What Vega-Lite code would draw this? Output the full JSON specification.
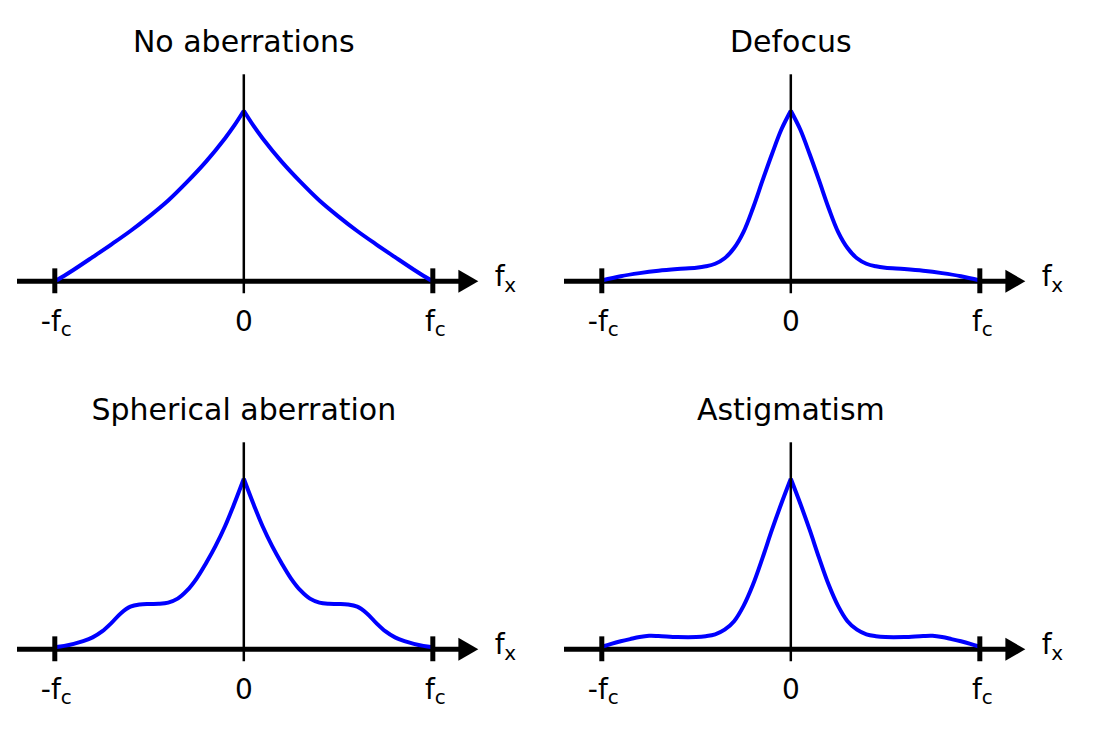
{
"$schema": "https://vega.github.io/schema/vega-lite/v6.json",
"padding": {"left": 14, "top": 17, "right": 0, "bottom": 0},
"autosize": {"type": "pad"},
"background": "white",
"config": {"view": {"stroke": null}, "font": "DejaVu Sans", "header": {"labels": false, "title": null, "labelFontSize": 0, "labelPadding": 0, "labelExpr": "''"}, "headerFacet": {"labels": false, "title": null, "labelFontSize": 0, "labelPadding": 0, "labelExpr": "''"}},
"data": {"values": [
{"p":"No aberrations","k":"panel"},
{"p":"Defocus","k":"panel"},
{"p":"Spherical aberration","k":"panel"},
{"p":"Astigmatism","k":"panel"},
{"p":"No aberrations","h":"L","x":-1,"y":0},
{"p":"No aberrations","h":"L","x":-0.95,"y":0.033},
{"p":"No aberrations","h":"L","x":-0.9,"y":0.068},
{"p":"No aberrations","h":"L","x":-0.8,"y":0.142},
{"p":"No aberrations","h":"L","x":-0.7,"y":0.217},
{"p":"No aberrations","h":"L","x":-0.6,"y":0.295},
{"p":"No aberrations","h":"L","x":-0.5,"y":0.381},
{"p":"No aberrations","h":"L","x":-0.4,"y":0.474},
{"p":"No aberrations","h":"L","x":-0.3,"y":0.583},
{"p":"No aberrations","h":"L","x":-0.2,"y":0.702},
{"p":"No aberrations","h":"L","x":-0.1,"y":0.838},
{"p":"No aberrations","h":"L","x":-0.05,"y":0.914},
{"p":"No aberrations","h":"L","x":0,"y":1},
{"p":"No aberrations","h":"R","x":0,"y":1},
{"p":"No aberrations","h":"R","x":0.05,"y":0.914},
{"p":"No aberrations","h":"R","x":0.1,"y":0.838},
{"p":"No aberrations","h":"R","x":0.2,"y":0.702},
{"p":"No aberrations","h":"R","x":0.3,"y":0.583},
{"p":"No aberrations","h":"R","x":0.4,"y":0.474},
{"p":"No aberrations","h":"R","x":0.5,"y":0.381},
{"p":"No aberrations","h":"R","x":0.6,"y":0.295},
{"p":"No aberrations","h":"R","x":0.7,"y":0.217},
{"p":"No aberrations","h":"R","x":0.8,"y":0.142},
{"p":"No aberrations","h":"R","x":0.9,"y":0.068},
{"p":"No aberrations","h":"R","x":0.95,"y":0.033},
{"p":"No aberrations","h":"R","x":1,"y":0},
{"p":"Defocus","h":"L","x":-1,"y":0.005},
{"p":"Defocus","h":"L","x":-0.9,"y":0.03},
{"p":"Defocus","h":"L","x":-0.8,"y":0.048},
{"p":"Defocus","h":"L","x":-0.7,"y":0.062},
{"p":"Defocus","h":"L","x":-0.6,"y":0.072},
{"p":"Defocus","h":"L","x":-0.5,"y":0.08},
{"p":"Defocus","h":"L","x":-0.45,"y":0.088},
{"p":"Defocus","h":"L","x":-0.4,"y":0.103},
{"p":"Defocus","h":"L","x":-0.35,"y":0.135},
{"p":"Defocus","h":"L","x":-0.3,"y":0.195},
{"p":"Defocus","h":"L","x":-0.25,"y":0.29},
{"p":"Defocus","h":"L","x":-0.2,"y":0.43},
{"p":"Defocus","h":"L","x":-0.15,"y":0.59},
{"p":"Defocus","h":"L","x":-0.1,"y":0.745},
{"p":"Defocus","h":"L","x":-0.05,"y":0.89},
{"p":"Defocus","h":"L","x":0,"y":1},
{"p":"Defocus","h":"R","x":0,"y":1},
{"p":"Defocus","h":"R","x":0.05,"y":0.89},
{"p":"Defocus","h":"R","x":0.1,"y":0.745},
{"p":"Defocus","h":"R","x":0.15,"y":0.59},
{"p":"Defocus","h":"R","x":0.2,"y":0.43},
{"p":"Defocus","h":"R","x":0.25,"y":0.29},
{"p":"Defocus","h":"R","x":0.3,"y":0.195},
{"p":"Defocus","h":"R","x":0.35,"y":0.135},
{"p":"Defocus","h":"R","x":0.4,"y":0.103},
{"p":"Defocus","h":"R","x":0.45,"y":0.088},
{"p":"Defocus","h":"R","x":0.5,"y":0.08},
{"p":"Defocus","h":"R","x":0.6,"y":0.072},
{"p":"Defocus","h":"R","x":0.7,"y":0.062},
{"p":"Defocus","h":"R","x":0.8,"y":0.048},
{"p":"Defocus","h":"R","x":0.9,"y":0.03},
{"p":"Defocus","h":"R","x":1,"y":0.005},
{"p":"Spherical aberration","h":"L","x":-1,"y":0.012},
{"p":"Spherical aberration","h":"L","x":-0.95,"y":0.02},
{"p":"Spherical aberration","h":"L","x":-0.9,"y":0.032},
{"p":"Spherical aberration","h":"L","x":-0.85,"y":0.048},
{"p":"Spherical aberration","h":"L","x":-0.8,"y":0.07},
{"p":"Spherical aberration","h":"L","x":-0.75,"y":0.105},
{"p":"Spherical aberration","h":"L","x":-0.7,"y":0.155},
{"p":"Spherical aberration","h":"L","x":-0.65,"y":0.212},
{"p":"Spherical aberration","h":"L","x":-0.6,"y":0.25},
{"p":"Spherical aberration","h":"L","x":-0.55,"y":0.263},
{"p":"Spherical aberration","h":"L","x":-0.5,"y":0.266},
{"p":"Spherical aberration","h":"L","x":-0.45,"y":0.267},
{"p":"Spherical aberration","h":"L","x":-0.4,"y":0.274},
{"p":"Spherical aberration","h":"L","x":-0.35,"y":0.297},
{"p":"Spherical aberration","h":"L","x":-0.3,"y":0.345},
{"p":"Spherical aberration","h":"L","x":-0.25,"y":0.415},
{"p":"Spherical aberration","h":"L","x":-0.2,"y":0.505},
{"p":"Spherical aberration","h":"L","x":-0.15,"y":0.605},
{"p":"Spherical aberration","h":"L","x":-0.1,"y":0.72},
{"p":"Spherical aberration","h":"L","x":-0.05,"y":0.855},
{"p":"Spherical aberration","h":"L","x":0,"y":1},
{"p":"Spherical aberration","h":"R","x":0,"y":1},
{"p":"Spherical aberration","h":"R","x":0.05,"y":0.855},
{"p":"Spherical aberration","h":"R","x":0.1,"y":0.72},
{"p":"Spherical aberration","h":"R","x":0.15,"y":0.605},
{"p":"Spherical aberration","h":"R","x":0.2,"y":0.505},
{"p":"Spherical aberration","h":"R","x":0.25,"y":0.415},
{"p":"Spherical aberration","h":"R","x":0.3,"y":0.345},
{"p":"Spherical aberration","h":"R","x":0.35,"y":0.297},
{"p":"Spherical aberration","h":"R","x":0.4,"y":0.274},
{"p":"Spherical aberration","h":"R","x":0.45,"y":0.267},
{"p":"Spherical aberration","h":"R","x":0.5,"y":0.266},
{"p":"Spherical aberration","h":"R","x":0.55,"y":0.263},
{"p":"Spherical aberration","h":"R","x":0.6,"y":0.25},
{"p":"Spherical aberration","h":"R","x":0.65,"y":0.212},
{"p":"Spherical aberration","h":"R","x":0.7,"y":0.155},
{"p":"Spherical aberration","h":"R","x":0.75,"y":0.105},
{"p":"Spherical aberration","h":"R","x":0.8,"y":0.07},
{"p":"Spherical aberration","h":"R","x":0.85,"y":0.048},
{"p":"Spherical aberration","h":"R","x":0.9,"y":0.032},
{"p":"Spherical aberration","h":"R","x":0.95,"y":0.02},
{"p":"Spherical aberration","h":"R","x":1,"y":0.012},
{"p":"Astigmatism","h":"L","x":-1,"y":0.015},
{"p":"Astigmatism","h":"L","x":-0.95,"y":0.032},
{"p":"Astigmatism","h":"L","x":-0.9,"y":0.047},
{"p":"Astigmatism","h":"L","x":-0.85,"y":0.06},
{"p":"Astigmatism","h":"L","x":-0.8,"y":0.072},
{"p":"Astigmatism","h":"L","x":-0.75,"y":0.079},
{"p":"Astigmatism","h":"L","x":-0.7,"y":0.078},
{"p":"Astigmatism","h":"L","x":-0.6,"y":0.072},
{"p":"Astigmatism","h":"L","x":-0.5,"y":0.072},
{"p":"Astigmatism","h":"L","x":-0.45,"y":0.077},
{"p":"Astigmatism","h":"L","x":-0.4,"y":0.088},
{"p":"Astigmatism","h":"L","x":-0.35,"y":0.115},
{"p":"Astigmatism","h":"L","x":-0.3,"y":0.165},
{"p":"Astigmatism","h":"L","x":-0.25,"y":0.255},
{"p":"Astigmatism","h":"L","x":-0.2,"y":0.38},
{"p":"Astigmatism","h":"L","x":-0.15,"y":0.535},
{"p":"Astigmatism","h":"L","x":-0.1,"y":0.7},
{"p":"Astigmatism","h":"L","x":-0.05,"y":0.855},
{"p":"Astigmatism","h":"L","x":0,"y":1},
{"p":"Astigmatism","h":"R","x":0,"y":1},
{"p":"Astigmatism","h":"R","x":0.05,"y":0.855},
{"p":"Astigmatism","h":"R","x":0.1,"y":0.7},
{"p":"Astigmatism","h":"R","x":0.15,"y":0.535},
{"p":"Astigmatism","h":"R","x":0.2,"y":0.38},
{"p":"Astigmatism","h":"R","x":0.25,"y":0.255},
{"p":"Astigmatism","h":"R","x":0.3,"y":0.165},
{"p":"Astigmatism","h":"R","x":0.35,"y":0.115},
{"p":"Astigmatism","h":"R","x":0.4,"y":0.088},
{"p":"Astigmatism","h":"R","x":0.45,"y":0.077},
{"p":"Astigmatism","h":"R","x":0.5,"y":0.072},
{"p":"Astigmatism","h":"R","x":0.6,"y":0.072},
{"p":"Astigmatism","h":"R","x":0.7,"y":0.078},
{"p":"Astigmatism","h":"R","x":0.75,"y":0.079},
{"p":"Astigmatism","h":"R","x":0.8,"y":0.072},
{"p":"Astigmatism","h":"R","x":0.85,"y":0.06},
{"p":"Astigmatism","h":"R","x":0.9,"y":0.047},
{"p":"Astigmatism","h":"R","x":0.95,"y":0.032},
{"p":"Astigmatism","h":"R","x":1,"y":0.015}
]},
"facet": {"field": "p", "type": "nominal", "sort": ["No aberrations", "Defocus", "Spherical aberration", "Astigmatism"], "title": null, "header": {"labels": false, "title": null, "labelFontSize": 0, "labelPadding": 0, "labelExpr": "''"}},
"columns": 2,
"spacing": {"row": 44, "column": 11},
"spec": {
"width": 533,
"height": 324,
"layer": [
{"transform": [{"filter": "datum.k == 'panel'"}],
 "mark": {"type": "rule", "color": "black", "strokeWidth": 5},
 "encoding": {"x": {"datum": -1.2, "type": "quantitative", "scale": {"domain": [-1.2, 1.62], "nice": false, "zero": false}, "axis": null}, "x2": {"datum": 1.17}, "y": {"datum": 0, "type": "quantitative", "scale": {"domain": [-0.35, 1.55], "nice": false, "zero": false}, "axis": null}}},
{"transform": [{"filter": "datum.k == 'panel'"}],
 "mark": {"type": "point", "shape": "triangle-right", "size": 529, "filled": true, "color": "black", "opacity": 1, "strokeWidth": 0},
 "encoding": {"x": {"datum": 1.188, "type": "quantitative"}, "y": {"datum": 0, "type": "quantitative"}}},
{"transform": [{"filter": "isValid(datum.y)"}],
 "mark": {"type": "line", "color": "#0000ff", "strokeWidth": 4, "interpolate": "catmull-rom"},
 "encoding": {"x": {"field": "x", "type": "quantitative"}, "y": {"field": "y", "type": "quantitative"}, "detail": {"field": "h"}}},
{"transform": [{"filter": "datum.k == 'panel'"}],
 "mark": {"type": "rule", "color": "black", "strokeWidth": 2.5},
 "encoding": {"x": {"datum": 0, "type": "quantitative"}, "y": {"datum": 1.214, "type": "quantitative"}, "y2": {"datum": -0.07}}},
{"transform": [{"filter": "datum.k == 'panel'"}],
 "mark": {"type": "rule", "color": "black", "strokeWidth": 5},
 "encoding": {"x": {"datum": -1, "type": "quantitative"}, "y": {"datum": 0.076, "type": "quantitative"}, "y2": {"datum": -0.07}}},
{"transform": [{"filter": "datum.k == 'panel'"}],
 "mark": {"type": "rule", "color": "black", "strokeWidth": 5},
 "encoding": {"x": {"datum": 1, "type": "quantitative"}, "y": {"datum": 0.076, "type": "quantitative"}, "y2": {"datum": -0.07}}},
{"transform": [{"filter": "datum.k == 'panel'"}],
 "mark": {"type": "text", "fontSize": 30, "align": "center", "baseline": "alphabetic", "color": "black"},
 "encoding": {"x": {"datum": 0, "type": "quantitative"}, "y": {"datum": 1.345, "type": "quantitative"}, "text": {"field": "p"}}},
{"transform": [{"filter": "datum.k == 'panel'"}],
 "mark": {"type": "text", "text": "-f", "fontSize": 28, "align": "right", "baseline": "alphabetic", "dx": 6, "color": "black"},
 "encoding": {"x": {"datum": -1, "type": "quantitative"}, "y": {"datum": -0.291, "type": "quantitative"}}},
{"transform": [{"filter": "datum.k == 'panel'"}],
 "mark": {"type": "text", "text": "c", "fontSize": 20, "align": "left", "baseline": "alphabetic", "dx": 6, "color": "black"},
 "encoding": {"x": {"datum": -1, "type": "quantitative"}, "y": {"datum": -0.318, "type": "quantitative"}}},
{"transform": [{"filter": "datum.k == 'panel'"}],
 "mark": {"type": "text", "text": "0", "fontSize": 28, "align": "center", "baseline": "alphabetic", "color": "black"},
 "encoding": {"x": {"datum": 0, "type": "quantitative"}, "y": {"datum": -0.291, "type": "quantitative"}}},
{"transform": [{"filter": "datum.k == 'panel'"}],
 "mark": {"type": "text", "text": "f", "fontSize": 28, "align": "right", "baseline": "alphabetic", "dx": 2, "color": "black"},
 "encoding": {"x": {"datum": 1, "type": "quantitative"}, "y": {"datum": -0.291, "type": "quantitative"}}},
{"transform": [{"filter": "datum.k == 'panel'"}],
 "mark": {"type": "text", "text": "c", "fontSize": 20, "align": "left", "baseline": "alphabetic", "dx": 2, "color": "black"},
 "encoding": {"x": {"datum": 1, "type": "quantitative"}, "y": {"datum": -0.318, "type": "quantitative"}}},
{"transform": [{"filter": "datum.k == 'panel'"}],
 "mark": {"type": "text", "text": "f", "fontSize": 28, "align": "left", "baseline": "alphabetic", "color": "black"},
 "encoding": {"x": {"datum": 1.328, "type": "quantitative"}, "y": {"datum": -0.028, "type": "quantitative"}}},
{"transform": [{"filter": "datum.k == 'panel'"}],
 "mark": {"type": "text", "text": "x", "fontSize": 20, "align": "left", "baseline": "alphabetic", "color": "black"},
 "encoding": {"x": {"datum": 1.378, "type": "quantitative"}, "y": {"datum": -0.063, "type": "quantitative"}}}
]
}
}
